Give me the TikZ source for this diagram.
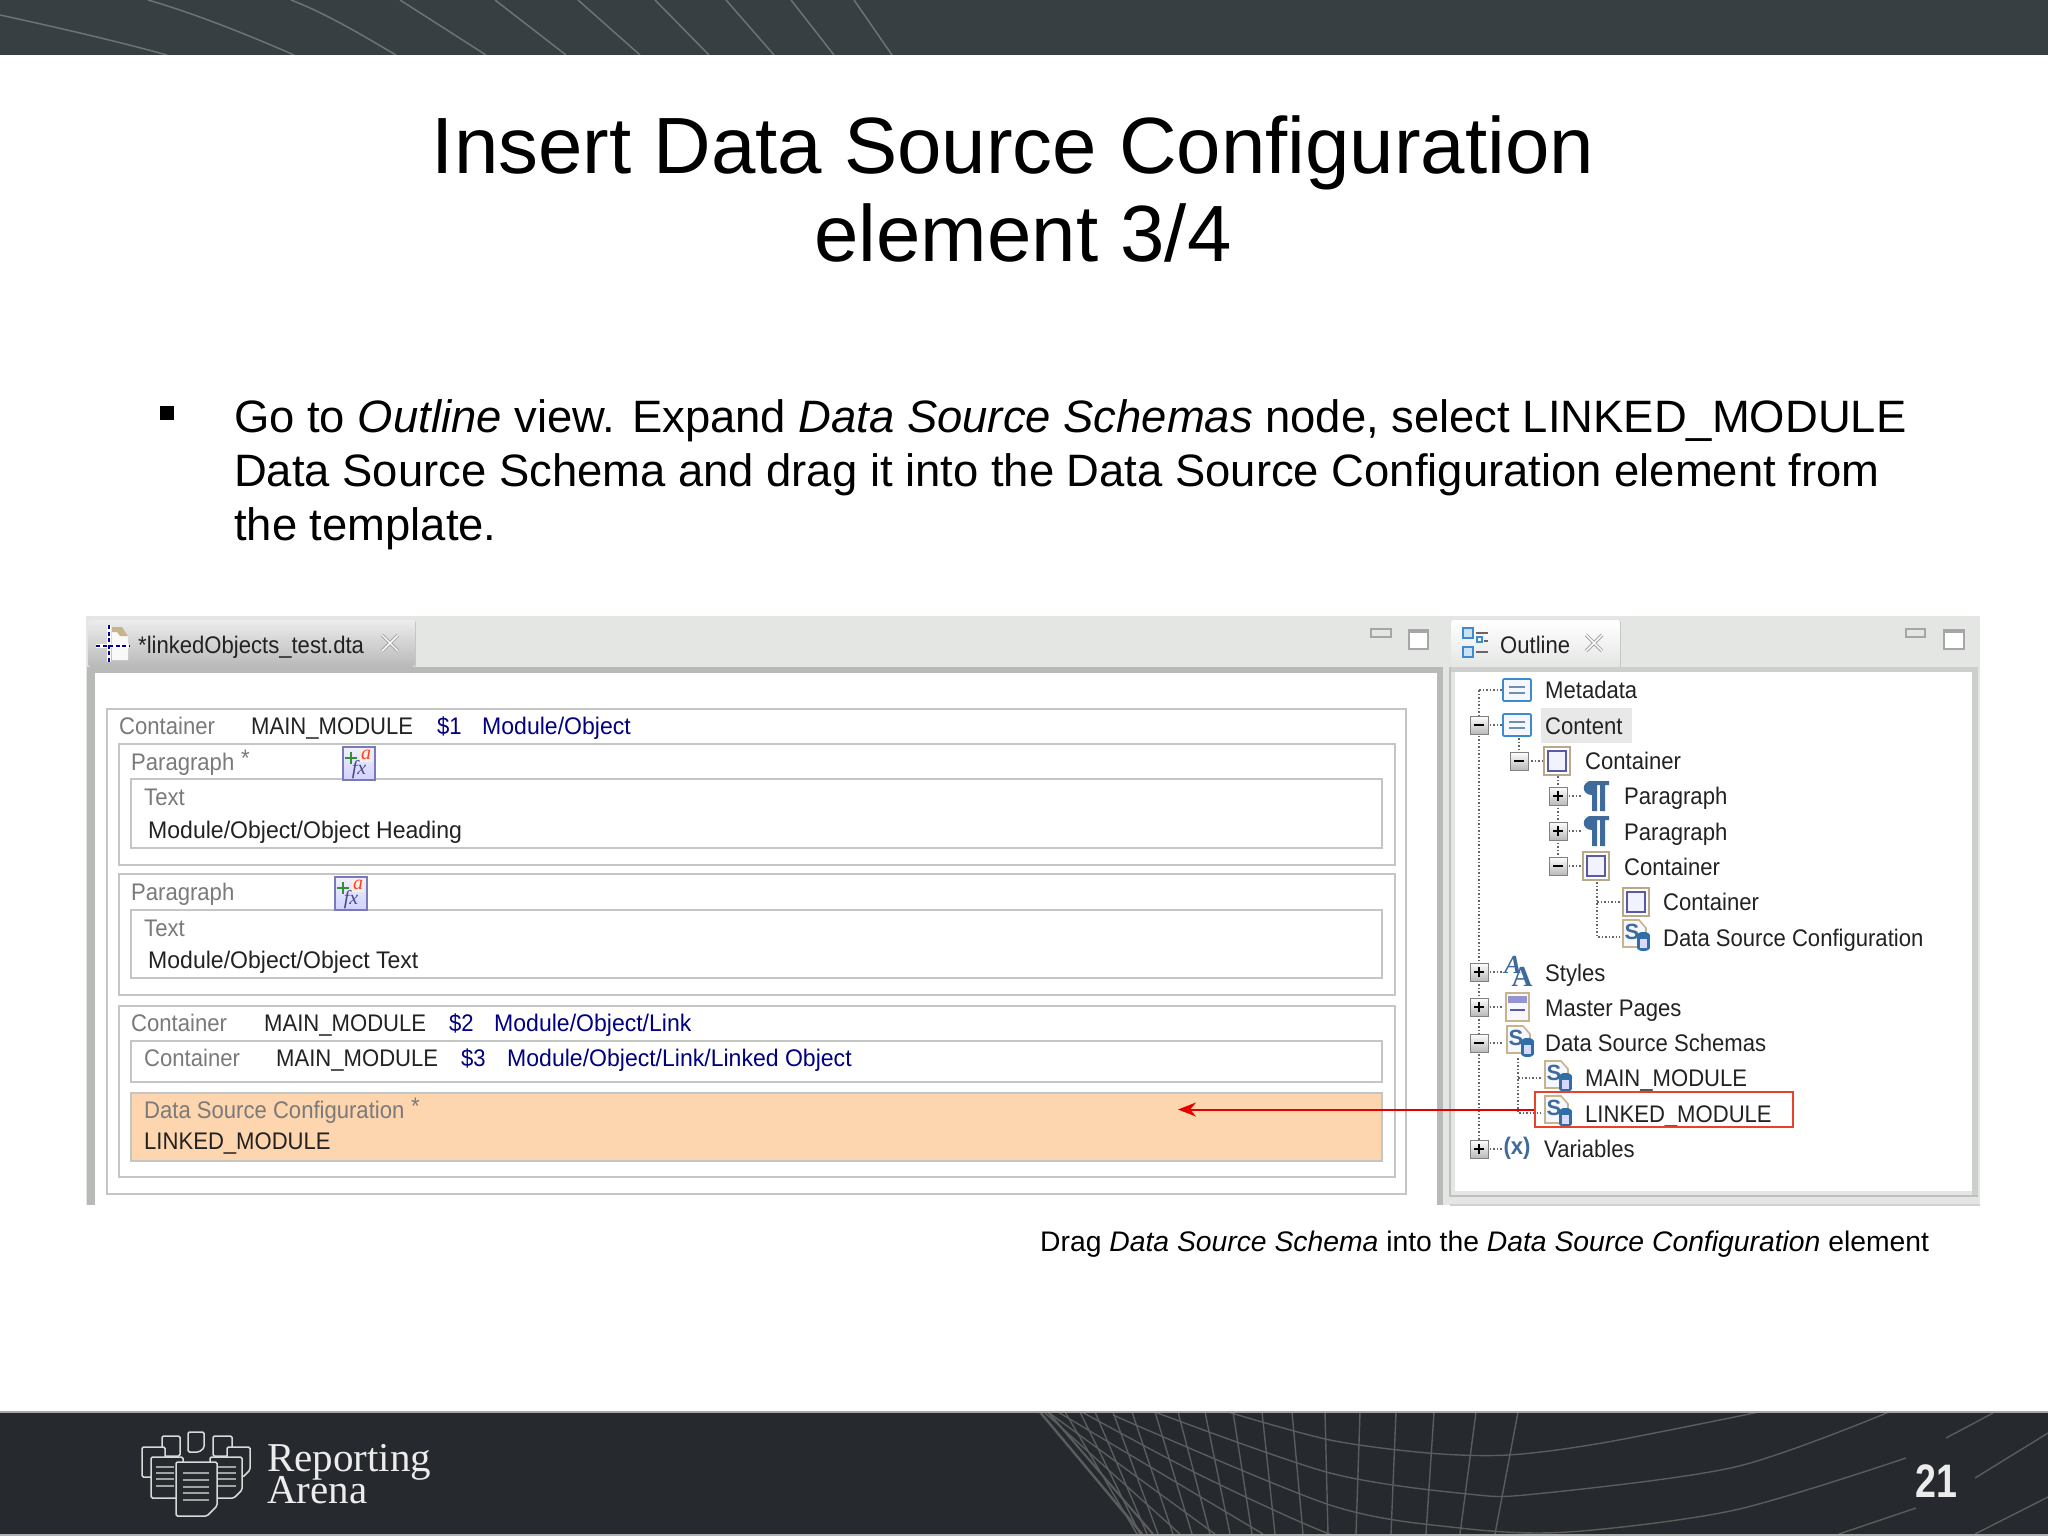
\documentclass[tikz,border=0pt]{standalone}
\usepackage{fontspec}
\setmainfont{Liberation Sans}
\newfontfamily\uif[FakeStretch=0.92]{Liberation Sans}
\newfontfamily\uiw[FakeStretch=0.96]{Liberation Sans}
\newfontfamily\serf{Liberation Serif}
\newfontfamily\numf[FakeStretch=0.8]{Liberation Sans}
\usetikzlibrary{arrows.meta}
\definecolor{topband}{HTML}{383F42}
\definecolor{topline}{HTML}{6C7375}
\definecolor{botband}{HTML}{26292D}
\definecolor{botline}{HTML}{5A5C5E}
\definecolor{frame}{HTML}{E4E6E4}
\definecolor{frameb}{HTML}{B8BAB8}
\definecolor{framec}{HTML}{CDCFCD}
\definecolor{boxl}{HTML}{C4C6C4}
\definecolor{lab}{HTML}{7A7A7A}
\definecolor{dark}{HTML}{222222}
\definecolor{nav}{HTML}{000080}
\definecolor{orange}{HTML}{FDD5AE}
\definecolor{icb}{HTML}{3C8AD0}
\definecolor{pil}{HTML}{3F6A9C}
\definecolor{logo}{HTML}{D8DADA}
\definecolor{tan}{HTML}{C8B48C}
\newcommand{\uifn}{\uif\fontsize{24}{24}\selectfont}
\newcommand{\uiwn}{\uiw\fontsize{24}{24}\selectfont}
\tikzset{
 x=1pt,y=-1pt,
 titlet/.style={anchor=base,inner sep=0,font=\fontsize{79.8}{80}\selectfont,text=black},
 bodyt/.style={anchor=base west,inner sep=0,font=\fontsize{45.4}{46}\selectfont,text=black},
 captxt/.style={anchor=base west,inner sep=0,font=\fontsize{28.3}{29}\selectfont,text=black},
 ui/.style={anchor=base west,inner sep=0,font=\uifn,text=dark},
 uil/.style={ui,text=lab},
 uin/.style={ui,text=nav},
 uip/.style={ui,font=\uiwn},
 uiq/.style={uin,font=\uiwn},
 bx/.style={draw=boxl,line width=2.4pt,fill=white},
 dots/.style={draw=black!60,line width=1.3pt,dash pattern=on 1.5pt off 2pt},
 bandl/.style={draw=topline,line width=1.5pt},
 bline/.style={draw=botline,line width=1.4pt},
 lg/.style={draw=logo,line width=1.5pt,fill=botband,rounded corners=1.5pt},
 lgl/.style={draw=logo!75!black,line width=1.5pt},
 metaico/.pic={\draw[icb,line width=1.6pt,fill=blue!3,rounded corners=1pt](-14,-11) rectangle (14,11);
   \draw[icb!70!black!70,line width=1.5pt](-8,-3)--(8,-3)(-8,3)--(8,3);},
 contico/.pic={\draw[draw=tan!80!gray,line width=2.5pt,fill=white](-13,-14) rectangle (13,14);
   \draw[draw=gray!70!blue,line width=1.3pt,fill=blue!5](-9,-10) rectangle (9,10);},
 pilico/.pic={\fill[pil](-13,-15)--(12,-15)--(12,-11)--(8,-11)--(8,15)--(3,15)--(3,-11)--(0,-11)--(0,15)--(-5,15)--(-5,-1) .. controls (-16,-1) and (-16,-15) .. (-5,-15)--cycle;},
 schico/.pic={\draw[draw=tan,line width=1.6pt,fill=blue!3](-13,-17)--(3,-17)--(10,-9)--(10,10)--(-13,10)--cycle;
   \node[inner sep=0,font=\bfseries\fontsize{22}{22}\selectfont,text=pil] (s) at (-4,-5) {S};
   \fill[icb!80!black](1,-2) rectangle (14,11);\fill[icb!80!black](7.5,-2) ellipse [x radius=6.5pt,y radius=3pt];\fill[icb!80!black](7.5,11) ellipse [x radius=6.5pt,y radius=3pt];
   \fill[blue!15](4,2) rectangle (11,11);},
 xico/.pic={\draw[gray!70,line width=3.5pt](-8,-8)--(8,8)(-8,8)--(8,-8);
   \draw[white,line width=1.4pt](-8,-8)--(8,8)(-8,8)--(8,-8);},
 expm/.pic={\shade[top color=white,bottom color=gray!55](-9,-9) rectangle (9,9);
   \draw[gray,line width=1pt](-9,-9) rectangle (9,9);
   \draw[black,line width=1.5pt](-5,0)--(5,0);},
 expp/.pic={\shade[top color=white,bottom color=gray!55](-9,-9) rectangle (9,9);
   \draw[gray,line width=1pt](-9,-9) rectangle (9,9);
   \draw[black,line width=1.5pt](-5,0)--(5,0)(0,-5)--(0,5);},
 fxico/.pic={\shade[top color=blue!6,bottom color=blue!18](0,0) rectangle (32,33);
   \draw[blue!30!gray!80,line width=1.8pt](0,0) rectangle (32,33);
   \draw[green!45!black!80,line width=2.6pt](2,11)--(14,11)(8,5)--(8,17);
   \fill[orange!40!white] (17,3) rectangle (29,15);
   \node[inner sep=0,font=\serf\itshape\fontsize{20}{20}\selectfont,text=orange!30!red] (a) at (23,8) {a};
   \node[inner sep=0,font=\serf\itshape\fontsize{20}{20}\selectfont,text=blue!30!gray!80!black] (f) at (16,23) {fx};},
}
\begin{document}
\begin{tikzpicture}
\useasboundingbox (0,0) rectangle (2048,1536);
\fill[white] (0,0) rectangle (2048,1536);
% top band
\fill[topband] (0,0) rectangle (2048,55);
\begin{scope}
\clip (0,0) rectangle (2048,55);
\draw[bandl] (0,15) .. controls (60,28) and (120,42) .. (167,55);
\draw[bandl] (148,0) .. controls (200,15) and (260,40) .. (294,55);
\draw[bandl] (291,0) .. controls (330,15) and (370,40) .. (396,55);
\draw[bandl] (400,0) -- (486,55);
\draw[bandl] (495,0) -- (566,55);
\draw[bandl] (578,0) -- (640,55);
\draw[bandl] (655,0) -- (709,55);
\draw[bandl] (726,0) -- (774,55);
\draw[bandl] (791,0) -- (834,55);
\draw[bandl] (854,0) -- (892,55);
\end{scope}
% bottom band
\fill[botband] (0,1412) rectangle (2048,1534);
\begin{scope}
\clip (0,1412) rectangle (2048,1534);
\foreach \a/\b in {1518/1495,1476/1460,1434/1426,1396/1391,1360/1356,1325/1328,1292/1303,1262/1275,1233/1252,1205/1230,1178/1210,1155/1192,1132/1173,1113/1158,1095/1147,1080/1140,1065/1137}
  \draw[bline] (\a,1412) -- (\b,1534);
\draw[bline,line width=2.4pt] (1040,1412) -- (1142,1534);
\draw[bline,line width=2pt] (1048,1412) -- (1153,1534);
\draw[bline] plot[smooth] coordinates {(1228,1412)(1330,1440)(1428,1453)(1508,1455)(1602,1443)(1759,1412)};
\draw[bline] plot[smooth] coordinates {(1155,1412)(1330,1473)(1468,1494)(1535,1494)(1735,1467)(1889,1412)};
\draw[bline] plot[smooth] coordinates {(1113,1415)(1330,1505)(1460,1528)(1568,1532)(1735,1510)(1906,1458)};
\draw[bline] plot[smooth] coordinates {(1082,1412)(1200,1475)(1327,1533)(1400,1550)};
\draw[bline] (1058,1412) -- (1263,1534);
\draw[bline] (1048,1412) -- (1215,1534);
\draw[bline] (1044,1412) -- (1180,1534);
\draw[bline] (1839,1534) -- (1916,1508);
\draw[bline] (1946,1438) -- (1993,1413);
\draw[bline] (1975,1478) -- (2048,1433);
\draw[bline] (1975,1534) -- (2048,1497);
\end{scope}
\draw[gray!70,line width=2pt] (0,1412) -- (2048,1412);
\fill[gray!60] (0,1534) rectangle (2048,1536);
% logo
\draw[lg] (162,1436) rectangle (180,1456);
\draw[lg] (213,1436) rectangle (232,1456);
\draw[lg] (188,1432)--(204,1432)--(204,1448)--(199,1452)--(188,1452)--cycle;
\draw[lg] (142,1447) rectangle (165,1477);
\draw[lg] (227,1447)--(250,1447)--(250,1470)--(243,1477)--(227,1477)--cycle;
\draw[lg] (151,1457) rectangle (183,1498);
\draw[lg] (210,1457)--(242,1457)--(242,1490)--(234,1498)--(210,1498)--cycle;
\foreach \y in {1467,1473,1479,1486}{\draw[lgl] (156,\y)--(174,\y);\draw[lgl] (218,\y)--(236,\y);}
\draw[lg] (176,1462)--(217,1462)--(217,1506)--(207,1516)--(176,1516)--cycle;
\foreach \y in {1473,1480,1487,1493,1500}\draw[lgl] (183,\y)--(209,\y);
\node[anchor=base west,inner sep=0,font=\serf\fontsize{41}{41}\selectfont,text=logo!50!white] (rep) at (267,1471) {Reporting};
\node[anchor=base west,inner sep=0,font=\serf\fontsize{41}{41}\selectfont,text=logo!50!white] (are) at (267,1503) {Arena};
\node[anchor=base west,inner sep=0,font=\numf\bfseries\fontsize{47}{47}\selectfont,text=gray!15] (num) at (1915,1497) {21};
% title
\node[titlet] (t1) at (1013,174) {Insert Data Source Configuration};
\node[titlet] (t2) at (1023,261) {element 3/4};
% bullet
\fill[black] (160,406) rectangle (174,420);
\node[bodyt] (b1) at (234,432) {Go to \textit{Outline} view. Expand \textit{Data Source Schemas} node, select LINKED\_MODULE};
\node[bodyt] (b2) at (234,486) {Data Source Schema and drag it into the Data Source Configuration element from};
\node[bodyt] (b3) at (234,540) {the template.};
% caption
\node[captxt] (c1) at (1040,1251) {Drag \textit{Data Source Schema} into the \textit{Data Source Configuration} element};
% screenshot frame
\fill[frame] (86,616) rectangle (1980,1205);
\fill[frameb] (88,667) rectangle (1442,673);
\fill[frameb] (87,667) rectangle (95,1205);
\fill[white] (95,673) rectangle (1437,1205);
\fill[frameb] (1437,667) rectangle (1443,1205);
\fill[framec] (1451,667) rectangle (1978,672);
\fill[framec] (1972,667) rectangle (1978,1197);
\fill[white] (1455,672) rectangle (1972,1191);
\draw[gray!50,line width=1.5pt] (1450,667) -- (1450,1196) -- (1978,1196);
\fill[gray!35] (1450,1204) rectangle (1980,1205.5);
% tabs
\shade[top color=gray!15,bottom color=gray!55,rounded corners=3pt] (88,620) rectangle (415,667);
\shade[top color=white,bottom color=frame,rounded corners=3pt] (1451,620) rectangle (1620,667);
\draw[gray!45,line width=1pt] (415,622)--(415,667);
\draw[gray!45,line width=1pt] (1620,622)--(1620,667);
\draw[gray!70,line width=1.6pt] (1371,629) rectangle (1391,637);
\draw[gray!70,line width=1.6pt,fill=white] (1409,630) rectangle (1428,649);
\draw[gray!70,line width=2.5pt] (1409,632)--(1428,632);
\draw[gray!70,line width=1.6pt] (1906,629) rectangle (1925,637);
\draw[gray!70,line width=1.6pt,fill=white] (1944,630) rectangle (1964,649);
\draw[gray!70,line width=2.5pt] (1944,632)--(1964,632);
% tab icon
\fill[gray!5] (112,627) -- (122,627) -- (128,636) -- (128,660) -- (112,660) -- cycle;
\fill[tan] (112,627) -- (122,627) -- (128,636) -- (120,636) -- (117,632) -- (112,632) -- cycle;
\draw[white,line width=3.5pt] (96,646)--(129,646) (109,625)--(109,662);
\draw[blue!60!black,line width=2pt,dash pattern=on 4pt off 2.5pt] (96,646)--(129,646) (109,625)--(109,662);
\node[ui] (tabt) at (138,653) {*linkedObjects\_test.dta};
\pic at (390,643) {xico};
% outline tab
\fill[icb!25] (1463,628) rectangle (1473,638);\draw[icb,line width=1.4pt] (1463,628) rectangle (1473,638);
\fill[icb!25] (1463,647) rectangle (1473,657);\draw[icb,line width=1.4pt] (1463,647) rectangle (1473,657);
\draw[icb,line width=1.2pt] (1477,637) rectangle (1482,642);
\draw[black!60,line width=1.4pt] (1476,633)--(1488,633) (1484,641)--(1488,641) (1476,652)--(1488,652);
\node[ui] (outt) at (1500,653) {Outline};
\pic at (1594,643) {xico};
% left boxes
\draw[bx] (107,709) rectangle (1406,1194);
\draw[bx] (119,744) rectangle (1395,865);
\draw[bx] (131,779) rectangle (1382,848);
\draw[bx] (119,874) rectangle (1395,995);
\draw[bx] (131,910) rectangle (1382,978);
\draw[bx] (119,1006) rectangle (1395,1177);
\draw[bx] (131,1041) rectangle (1382,1082);
\draw[bx,fill=orange] (131,1093) rectangle (1382,1161);
\pic at (343,747) {fxico};
\pic at (335,877) {fxico};
\node[uil] (l1) at (119,734) {Container};
\node[ui] (l2) at (251,734) {MAIN\_MODULE};
\node[uin] (l3) at (437,734) {\$1};
\node[uiq] (l4) at (482,734) {Module/Object};
\node[uil] (l5) at (131,770) {Paragraph};
\node[uil] (l5s) at (241,766) {*};
\node[uil] (l6) at (144,805) {Text};
\node[uip] (l7) at (148,838) {Module/Object/Object Heading};
\node[uil] (l8) at (131,900) {Paragraph};
\node[uil] (l9) at (144,936) {Text};
\node[uip] (l10) at (148,968) {Module/Object/Object Text};
\node[uil] (l11) at (131,1031) {Container};
\node[ui] (l12) at (264,1031) {MAIN\_MODULE};
\node[uin] (l13) at (449,1031) {\$2};
\node[uiq] (l14) at (494,1031) {Module/Object/Link};
\node[uil] (l15) at (144,1066) {Container};
\node[ui] (l16) at (276,1066) {MAIN\_MODULE};
\node[uin] (l17) at (461,1066) {\$3};
\node[uiq] (l18) at (507,1066) {Module/Object/Link/Linked Object};
\node[uil] (l19) at (144,1118) {Data Source Configuration};
\node[uil] (l19s) at (411,1114) {*};
\node[ui] (l20) at (144,1149) {LINKED\_MODULE};
% tree dotted lines
\draw[dots] (1479,690)--(1479,1149);
\draw[dots] (1479,690)--(1503,690);
\foreach \y in {725,972,1007,1043,1149}\draw[dots] (1479,\y)--(1503,\y);
\draw[dots] (1519,738)--(1519,761)--(1543,761);
\draw[dots] (1558,776)--(1558,866);
\foreach \y in {796,831,866}\draw[dots] (1558,\y)--(1582,\y);
\draw[dots] (1597,882)--(1597,937)--(1620,937);
\draw[dots] (1597,902)--(1620,902);
\draw[dots] (1518,1058)--(1518,1113)--(1541,1113);
\draw[dots] (1518,1078)--(1541,1078);
% tree rows
\fill[gray!18] (1541,708) rectangle (1632,743);
\pic at (1517,690) {metaico};
\pic at (1517,725) {metaico};
\pic at (1479,725) {expm};
\node[ui] (r1) at (1545,698) {Metadata};
\node[ui] (r2) at (1545,734) {Content};
\pic at (1519,761) {expm};
\pic at (1557,761) {contico};
\node[ui] (r3) at (1585,769) {Container};
\pic at (1558,796) {expp};
\pic at (1597,796) {pilico};
\node[ui] (r4) at (1624,804) {Paragraph};
\pic at (1558,831) {expp};
\pic at (1597,831) {pilico};
\node[ui] (r5) at (1624,840) {Paragraph};
\pic at (1558,866) {expm};
\pic at (1596,866) {contico};
\node[ui] (r6) at (1624,875) {Container};
\pic at (1636,902) {contico};
\node[ui] (r7) at (1663,910) {Container};
\pic at (1636,937) {schico};
\node[ui] (r8) at (1663,946) {Data Source Configuration};
\pic at (1479,972) {expp};
\node[inner sep=0,font=\bfseries\itshape\serf\fontsize{26}{26}\selectfont,text=pil] (sa) at (1513,965) {A};
\node[inner sep=0,font=\bfseries\serf\fontsize{29}{29}\selectfont,text=pil] (sb) at (1522,977) {A};
\node[ui] (r9) at (1545,981) {Styles};
\pic at (1479,1007) {expp};
\draw[tan,line width=1.5pt,fill=blue!3] (1506,993) rectangle (1529,1021);
\fill[blue!40!gray!60] (1508,996) rectangle (1527,1003);
\draw[gray!70!blue,line width=1.3pt] (1510,1010)--(1525,1010);
\node[ui] (r10) at (1545,1016) {Master Pages};
\pic at (1479,1043) {expm};
\pic at (1520,1043) {schico};
\node[ui] (r11) at (1545,1051) {Data Source Schemas};
\pic at (1558,1078) {schico};
\node[ui] (r12) at (1585,1086) {MAIN\_MODULE};
\pic at (1558,1113) {schico};
\node[ui] (r13) at (1585,1122) {LINKED\_MODULE};
\pic at (1479,1149) {expp};
\node[inner sep=0,font=\bfseries\uif\fontsize{24}{24}\selectfont,text=pil] (vx) at (1517,1148) {(x)};
\node[ui] (r14) at (1544,1157) {Variables};
% red callout
\node[draw={rgb,255:red,232;green,67;blue,42},line width=2.4pt,inner sep=0,minimum width=258pt,minimum height=35pt] (lnk) at (1664,1109.5) {};
\coordinate (tip) at (1178,1109.5);
\draw[red!90!black,line width=2pt,-{Stealth[length=18pt,width=14pt]}] (lnk.west) -- (tip);
\end{tikzpicture}
\end{document}
